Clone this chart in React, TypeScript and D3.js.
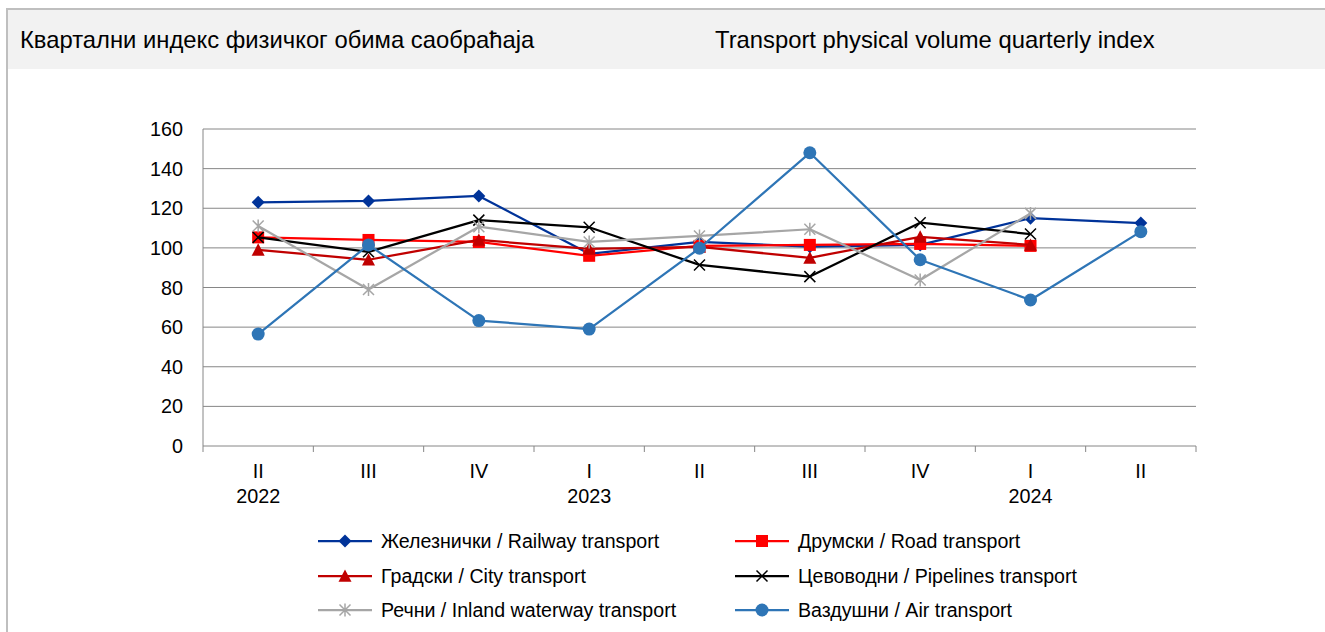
import React from "react";
import * as d3 from "d3";

const categories = ["II", "III", "IV", "I", "II", "III", "IV", "I", "II"];
const yearLabels = ["2022", "", "", "2023", "", "", "", "2024", ""];
const yTicks = [0, 20, 40, 60, 80, 100, 120, 140, 160];

const railway = [123, 123.7, 126.2, 97, 103, 100.6, 101.5, 115, 112.5];
const road = [105.3, 104, 103, 96, 101, 101.5, 102, 101];
const city = [99, 94, 104, 99.5, 100.5, 95, 105.6, 101.5];
const pipelines = [105.3, 98, 114, 110.4, 91.4, 85.5, 112.7, 107];
const inland = [111, 79, 110.7, 103, 106, 109.4, 83.8, 117.4];
const air = [56.5, 101.5, 63.3, 59, 99.8, 148, 94, 73.7, 108.2];

const seriesNames = [
  "Железнички / Railway transport",
  "Друмски / Road transport",
  "Градски / City transport",
  "Цевоводни / Pipelines transport",
  "Речни / Inland waterway transport",
  "Ваздушни / Air transport",
];
const seriesValues = [railway, road, city, pipelines, inland, air];
const seriesColors = ["#003399", "#ff0000", "#c00000", "#000000", "#a6a6a6", "#2e75b6"];
const seriesMarkers = ["diamond", "square", "triangle", "x", "star", "circle"];

const FONT = "'Liberation Sans', Arial, sans-serif";

function Marker({ type, x, y, color }: { type: string; x: number; y: number; color: string }) {
  if (type === "diamond") {
    const s = 6.5;
    return <path d={`M${x},${y - s}L${x + s},${y}L${x},${y + s}L${x - s},${y}Z`} fill={color} />;
  }
  if (type === "square") {
    const s = 6;
    return <rect x={x - s} y={y - s} width={2 * s} height={2 * s} fill={color} />;
  }
  if (type === "triangle") {
    const s = 6.5;
    return <path d={`M${x},${y - s}L${x + s},${y + s * 0.9}L${x - s},${y + s * 0.9}Z`} fill={color} />;
  }
  if (type === "x") {
    const s = 5.5;
    return (
      <path d={`M${x - s},${y - s}L${x + s},${y + s}M${x - s},${y + s}L${x + s},${y - s}`} stroke={color} strokeWidth={1.5} fill="none" />
    );
  }
  if (type === "star") {
    const s = 5.5;
    return (
      <path
        d={`M${x - s},${y - s}L${x + s},${y + s}M${x - s},${y + s}L${x + s},${y - s}M${x},${y - s - 1}L${x},${y + s + 1}`}
        stroke={color}
        strokeWidth={1.5}
        fill="none"
      />
    );
  }
  return <circle cx={x} cy={y} r={6.5} fill={color} />;
}

export default function App() {
  const W = 1325;
  const H = 632;
  const left = 203;
  const right = 1196;
  const top = 129;
  const bottom = 446;

  const x = d3.scaleBand<number>().domain(d3.range(categories.length)).range([left, right]).paddingInner(0).paddingOuter(0);
  const y = d3.scaleLinear().domain([0, 160]).range([bottom, top]);
  const cx = (i: number) => (x(i) as number) + x.bandwidth() / 2;
  const line = d3
    .line<number>()
    .x((_, i) => cx(i))
    .y((v) => y(v));

  const legendRows = [541, 576, 610];
  const legendCols = [318, 735];

  return (
    <svg width={W} height={H} style={{ position: "absolute", left: 0, top: 0, display: "block" }} fontFamily={FONT}>
      <rect x={0} y={0} width={W} height={H} fill="#ffffff" />
      {/* header band */}
      <rect x={8} y={10} width={W - 8} height={59} fill="#f2f2f2" />
      <line x1={7} y1={9} x2={W} y2={9} stroke="#bfbfbf" strokeWidth={2} />
      <line x1={7} y1={8} x2={7} y2={H} stroke="#bfbfbf" strokeWidth={2} />
      <text x={20} y={48} fontSize={23.8} fill="#000">
        Квартални индекс физичког обима саобраћаја
      </text>
      <text x={715} y={48} fontSize={23.8} fill="#000">
        Transport physical volume quarterly index
      </text>

      {/* gridlines */}
      {yTicks.map((t) => (
        <line key={t} x1={left} x2={right} y1={y(t)} y2={y(t)} stroke="#868686" strokeWidth={1} />
      ))}
      {/* y axis */}
      <line x1={left} x2={left} y1={top} y2={bottom} stroke="#868686" strokeWidth={1} />
      {yTicks.map((t) => (
        <text key={t} x={183} y={y(t) + 7} textAnchor="end" fontSize={19.8} fill="#000">
          {t}
        </text>
      ))}
      {/* x ticks */}
      {d3.range(categories.length + 1).map((i) => {
        const xx = i < categories.length ? (x(i) as number) : right;
        return <line key={i} x1={xx} x2={xx} y1={bottom} y2={bottom + 6} stroke="#868686" strokeWidth={1} />;
      })}
      {categories.map((c, i) => (
        <text key={i} x={cx(i)} y={478} textAnchor="middle" fontSize={19.8} fill="#000">
          {c}
        </text>
      ))}
      {yearLabels.map((c, i) =>
        c ? (
          <text key={i} x={cx(i)} y={503} textAnchor="middle" fontSize={19.8} fill="#000">
            {c}
          </text>
        ) : null
      )}

      {/* series */}
      {seriesValues.map((vals, s) => (
        <g key={s}>
          <path d={line(vals) || ""} fill="none" stroke={seriesColors[s]} strokeWidth={2.25} strokeLinejoin="round" />
          {vals.map((v, i) => (
            <Marker key={i} type={seriesMarkers[s]} x={cx(i)} y={y(v)} color={seriesColors[s]} />
          ))}
        </g>
      ))}

      {/* legend */}
      {seriesNames.map((name, s) => {
        const lx = legendCols[s % 2];
        const ly = legendRows[Math.floor(s / 2)];
        return (
          <g key={s}>
            <line x1={lx} x2={lx + 54} y1={ly} y2={ly} stroke={seriesColors[s]} strokeWidth={2.25} />
            <Marker type={seriesMarkers[s]} x={lx + 27} y={ly} color={seriesColors[s]} />
            <text x={lx + 63} y={ly + 7} fontSize={19.6} fill="#000">
              {name}
            </text>
          </g>
        );
      })}
    </svg>
  );
}
